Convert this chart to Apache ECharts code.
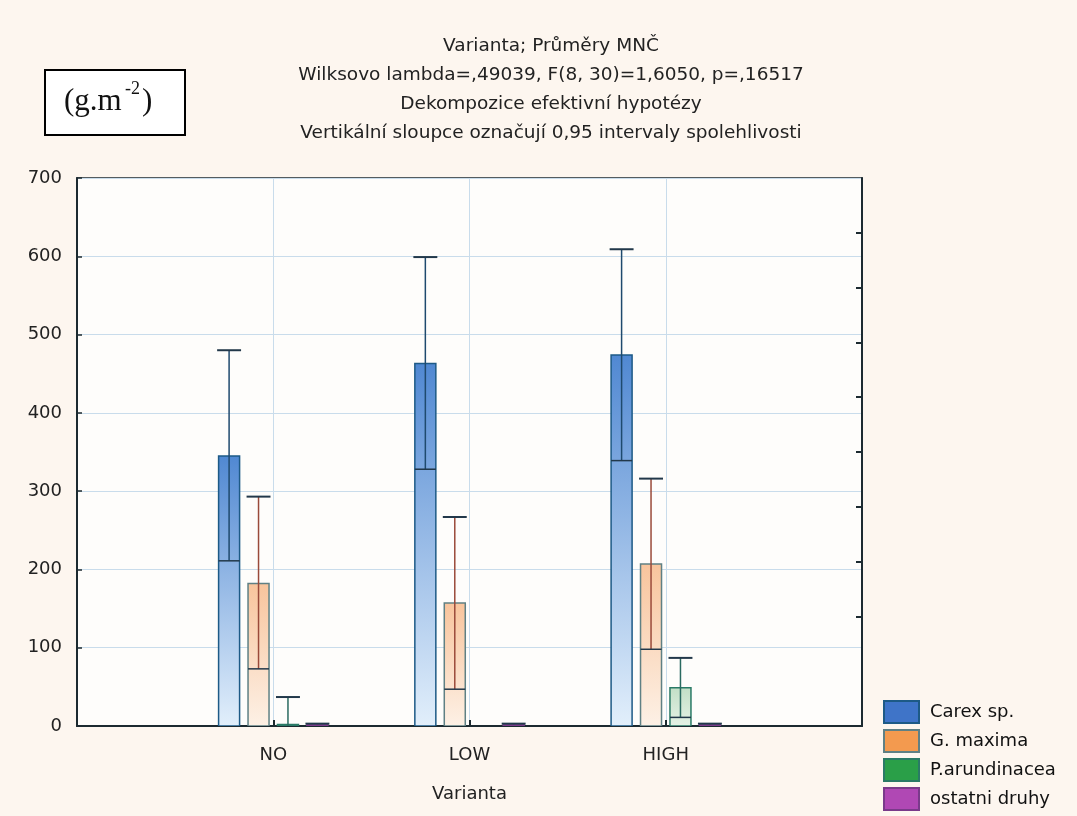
<!DOCTYPE html>
<html>
<head>
<meta charset="utf-8">
<script src="https://cdn.jsdelivr.net/npm/echarts@6/dist/echarts.min.js"></script>
<style>
  html, body { margin: 0; padding: 0; background: #fdf6ef; }
  #chart { width: 1077px; height: 816px; }
</style>
</head>
<body>
<div id="chart"></div>
<script>
// Groups on the x axis (placed at 1, 2, 3 on a 0..4 scale)
const variants = ['NO', 'LOW', 'HIGH'];
const yTicks = [0, 100, 200, 300, 400, 500, 600, 700];

// Means and 0.95 confidence limits per species, in g.m-2, order NO, LOW, HIGH
const carexMean = [345, 463, 474];
const carexLow  = [211, 328, 339];
const carexHigh = [480, 599, 609];

const gmaxMean = [182, 157, 207];
const gmaxLow  = [73, 47, 98];
const gmaxHigh = [293, 267, 316];

const phalMean = [2, 0, 49];
const phalLow  = [-33, 0, 11];
const phalHigh = [37, 0, 87];

const otherMean = [1.5, 1.5, 1.5];
const otherLow  = [0, 0, 0];
const otherHigh = [3, 3, 3];

const speciesNames = ['Carex sp.', 'G. maxima', 'P.arundinacea', 'ostatni druhy'];

function rows(mean, lo, hi) {
  return mean.map((m, i) => [i + 1, m, lo[i], hi[i]]);
}

const styles = [
  { legend: '#3f74c8', top: '#5088d2', bottom: '#e2effb', border: '#1d5a86', whisker: '#1f4a6e' },
  { legend: '#f39a4f', top: '#f8c49c', bottom: '#fdf1e6', border: '#5f8084', whisker: '#9a4a3a' },
  { legend: '#2a9f48', top: '#c2dfc6', bottom: '#e6f2e6', border: '#2a7a66', whisker: '#2a6a60' },
  { legend: '#b048b4', top: '#c070c8', bottom: '#e0b8e4', border: '#7a3a8a', whisker: '#7a3a8a' }
];

const datasets = [
  rows(carexMean, carexLow, carexHigh),
  rows(gmaxMean, gmaxLow, gmaxHigh),
  rows(phalMean, phalLow, phalHigh),
  rows(otherMean, otherLow, otherHigh)
];

function makeRender(idx) {
  const st = styles[idx];
  return function (params, api) {
    const x = api.value(0);
    const mean = api.value(1);
    const lo = api.value(2);
    const hi = api.value(3);
    const unit = api.size([1, 0])[0];          // pixels per group step
    const step = unit * 0.15;
    const w = unit * 0.107;
    const capW = unit * 0.122;
    const base = api.coord([x, 0]);
    const cx = base[0] + (idx - 1.5) * step;
    const yTop = api.coord([x, mean])[1];
    const yLo = api.coord([x, Math.max(lo, 0)])[1];
    const yHi = api.coord([x, hi])[1];
    const children = [];
    if (mean > 0) {
      children.push({
        type: 'rect',
        shape: { x: cx - w / 2, y: yTop, width: w, height: base[1] - yTop },
        style: {
          fill: new echarts.graphic.LinearGradient(0, 0, 0, 1, [
            { offset: 0, color: st.top },
            { offset: 1, color: st.bottom }
          ]),
          stroke: st.border,
          lineWidth: 1.5
        }
      });
    }
    if (hi > lo) {
      children.push({
        type: 'line',
        shape: { x1: cx, y1: yLo, x2: cx, y2: yHi },
        style: { stroke: st.whisker, lineWidth: 1.5 }
      });
      children.push({
        type: 'line',
        shape: { x1: cx - capW / 2, y1: yHi, x2: cx + capW / 2, y2: yHi },
        style: { stroke: '#22384a', lineWidth: 2 }
      });
      if (lo > 0) {
        children.push({
          type: 'line',
          shape: { x1: cx - w / 2, y1: yLo, x2: cx + w / 2, y2: yLo },
          style: { stroke: '#22384a', lineWidth: 1.5 }
        });
      }
    }
    return { type: 'group', children: children };
  };
}

const fontFamily = '"DejaVu Sans", Verdana, sans-serif';
const serif = '"Liberation Serif", "Times New Roman", serif';

const chart = echarts.init(document.getElementById('chart'), null, { renderer: 'canvas' });

chart.setOption({
  backgroundColor: '#fdf6ef',
  animation: false,
  title: {
    text: 'Varianta; Průměry MNČ\nWilksovo lambda=,49039, F(8, 30)=1,6050, p=,16517\nDekompozice efektivní hypotézy\nVertikální sloupce označují 0,95 intervaly spolehlivosti',
    left: 546,
    top: 27,
    textAlign: 'center',
    textStyle: {
      fontFamily: fontFamily,
      fontSize: 18.5,
      fontWeight: 'normal',
      color: '#222',
      lineHeight: 29
    }
  },
  legend: {
    orient: 'vertical',
    left: 883,
    top: 700,
    padding: 0,
    itemWidth: 35,
    itemHeight: 22,
    itemGap: 5,
    icon: 'rect',
    data: speciesNames,
    textStyle: { fontFamily: fontFamily, fontSize: 18, lineHeight: 22, color: '#111', padding: [0, 0, 0, 6] }
  },
  grid: {
    left: 77, top: 178, right: 215, bottom: 90,
    show: true,
    backgroundColor: '#fefdfb',
    borderColor: '#1c2a30',
    borderWidth: 1.5
  },
  xAxis: {
    type: 'value',
    min: 0, max: 4, interval: 1,
    name: 'Varianta',
    nameLocation: 'middle',
    nameGap: 59,
    nameTextStyle: { fontFamily: fontFamily, fontSize: 18, color: '#222' },
    axisLine: { show: true, lineStyle: { color: '#1c2a30', width: 2 } },
    axisTick: { show: true, inside: true, length: 6, lineStyle: { color: '#1c2a30', width: 2 }, customValues: [1, 2, 3] },
    axisLabel: {
      fontFamily: fontFamily, fontSize: 18, color: '#222', margin: 20,
      formatter: v => (v >= 1 && v <= 3 ? variants[v - 1] : '')
    },
    splitLine: { show: true, lineStyle: { color: '#c9dceb', width: 1 } }
  },
  yAxis: [
    {
      type: 'value',
      min: yTicks[0], max: yTicks[yTicks.length - 1], interval: 100,
      axisLine: { show: true, lineStyle: { color: '#1c2a30', width: 2 } },
      axisTick: { show: true, inside: true, length: 5, lineStyle: { color: '#1c2a30', width: 1.5 } },
      axisLabel: { fontFamily: fontFamily, fontSize: 18, color: '#222', margin: 15 },
      splitLine: { show: true, lineStyle: { color: '#c9dceb', width: 1 } }
    },
    {
      type: 'value',
      position: 'right',
      min: 0, max: 10, interval: 1,
      axisLine: { show: true, lineStyle: { color: '#1c2a30', width: 2 } },
      axisTick: { show: true, inside: true, length: 6, lineStyle: { color: '#1c2a30', width: 2 }, customValues: [2, 3, 4, 5, 6, 7, 8, 9] },
      axisLabel: { show: false },
      splitLine: { show: false }
    }
  ],
  graphic: [
    {
      type: 'rect',
      shape: { x: 45, y: 70, width: 140, height: 65 },
      style: { fill: '#ffffff', stroke: '#000', lineWidth: 2 }
    },
    {
      type: 'text', left: 64, top: 86,
      style: { text: '(g.m', font: '31px ' + serif, fill: '#111' }
    },
    {
      type: 'text', left: 125, top: 80,
      style: { text: '-2', font: '18px ' + serif, fill: '#111' }
    },
    {
      type: 'text', left: 142, top: 86,
      style: { text: ')', font: '31px ' + serif, fill: '#111' }
    }
  ],
  series: speciesNames.map((name, idx) => ({
    name: name,
    type: 'custom',
    xAxisIndex: 0,
    yAxisIndex: 0,
    clip: true,
    itemStyle: { color: styles[idx].legend, borderColor: styles[idx].border, borderWidth: 1 },
    renderItem: makeRender(idx),
    encode: { x: 0, y: [1, 2, 3] },
    data: datasets[idx]
  }))
});
</script>
</body>
</html>
